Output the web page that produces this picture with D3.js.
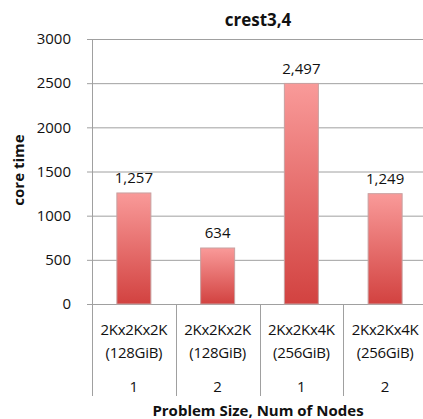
<!DOCTYPE html>
<html><head><meta charset="utf-8">
<script src="https://cdn.jsdelivr.net/npm/d3@7"></script>
<style>body{margin:0;background:#fff;}svg{display:block;font-family:"Open Sans",sans-serif;}</style>
</head><body><svg id="c" width="423" height="419"></svg>
<script>
const sizes = ["2Kx2Kx2K","2Kx2Kx2K","2Kx2Kx4K","2Kx2Kx4K"];
const mems = ["(128GiB)","(128GiB)","(256GiB)","(256GiB)"];
const nodes = ["1","2","1","2"];
const values = [1257, 634, 2497, 1249];
const yTicks = [0,500,1000,1500,2000,2500,3000];

const svg = d3.select("#c");
const L=92, R=427, T=39, B=304;
const x = d3.scaleBand().domain(d3.range(values.length)).range([L,R]).paddingInner(0).paddingOuter(0);
const y = d3.scaleLinear().domain([0,3000]).range([B,T]);

const defs = svg.append("defs");
const g = defs.append("linearGradient").attr("id","bg").attr("x1",0).attr("y1",0).attr("x2",0).attr("y2",1);
g.append("stop").attr("offset","0%").attr("stop-color","#f99a99");
g.append("stop").attr("offset","100%").attr("stop-color","#d24240");

const fs = 15;
// gridlines
svg.append("g").selectAll("line").data(yTicks).join("line")
  .attr("x1",L-5).attr("x2",423).attr("y1",d=>y(d)+0.5).attr("y2",d=>y(d)+0.5)
  .attr("stroke","#a0a0a0").attr("stroke-width",1);
// y axis
svg.append("line").attr("x1",L+0.5).attr("x2",L+0.5).attr("y1",T).attr("y2",B).attr("stroke","#a0a0a0");
svg.append("g").selectAll("text").data(yTicks).join("text")
  .attr("x",71).attr("y",d=>y(d)).attr("dy","0.35em").attr("text-anchor","end")
  .attr("font-size",fs).attr("fill","#111").text(d=>d);

// x separators
const seps = d3.range(values.length+1).map(i=> i<values.length ? x(i) : R);
svg.append("g").selectAll("line").data(seps).join("line")
  .attr("x1",d=>Math.round(d)+0.5).attr("x2",d=>Math.round(d)+0.5).attr("y1",B).attr("y2",396)
  .attr("stroke","#a0a0a0");

// bars
const bw = 34;
svg.append("g").selectAll("rect").data(values).join("rect")
  .attr("x",(d,i)=>x(i)+x.bandwidth()/2-bw/2).attr("width",bw)
  .attr("y",d=>y(d)).attr("height",d=>B-y(d))
  .attr("fill","url(#bg)").attr("stroke","#c8a0a0").attr("stroke-width",1);

// value labels
svg.append("g").selectAll("text").data(values).join("text")
  .attr("x",(d,i)=>x(i)+x.bandwidth()/2).attr("y",d=>y(d)-15).attr("dy","0.35em")
  .attr("text-anchor","middle").attr("font-size",fs).attr("fill","#111")
  .text(d=>d3.format(",")(d));

// category labels
const cx = i=>x(i)+x.bandwidth()/2;
svg.append("g").selectAll("text").data(sizes).join("text")
  .attr("x",(d,i)=>cx(i)).attr("y",330).attr("dy","0.35em").attr("text-anchor","middle")
  .attr("font-size",fs).attr("letter-spacing","-0.3").attr("fill","#111").text(d=>d);
svg.append("g").selectAll("text").data(mems).join("text")
  .attr("x",(d,i)=>cx(i)).attr("y",353).attr("dy","0.35em").attr("text-anchor","middle")
  .attr("font-size",fs).attr("letter-spacing","-0.3").attr("fill","#111").text(d=>d);
svg.append("g").selectAll("text").data(nodes).join("text")
  .attr("x",(d,i)=>cx(i)).attr("y",387).attr("dy","0.35em").attr("text-anchor","middle")
  .attr("font-size",fs).attr("fill","#111").text(d=>d);

// titles
svg.append("text").attr("x",258).attr("y",20).attr("dy","0.35em").attr("text-anchor","middle")
  .attr("font-size",17).attr("font-weight","bold").attr("fill","#111").text("crest3,4");
svg.append("text").attr("x",258).attr("y",411).attr("dy","0.35em").attr("text-anchor","middle")
  .attr("font-size",15).attr("font-weight","bold").attr("fill","#111").text("Problem Size, Num of Nodes");
svg.append("text").attr("transform","translate(19,170) rotate(-90)").attr("dy","0.35em").attr("text-anchor","middle")
  .attr("font-size",15).attr("font-weight","bold").attr("fill","#111").text("core time");
</script></body></html>
